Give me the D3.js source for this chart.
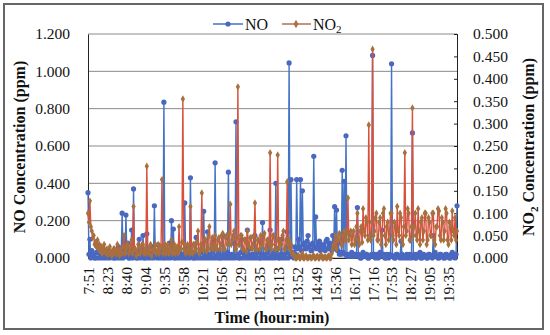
<!DOCTYPE html>
<html>
<head>
<meta charset="utf-8">
<title>NO / NO2</title>
<script src="https://cdn.jsdelivr.net/npm/d3@7"></script>
<style>
  html, body { margin: 0; padding: 0; background: #fff; }
  svg { display: block; }
  text { font-family: "Liberation Serif", "Times New Roman", serif; fill: #111; }
</style>
</head>
<body>
<svg width="550" height="335"></svg>
<script>
// time labels, one every 20 readings
var timeLabels = ["7:51","8:23","8:40","9:04","9:35","9:58","10:21","10:56","11:29","12:35",
                  "13:13","13:52","14:49","15:36","16:17","17:16","17:53","18:27","19:05","19:35"];
var labelEvery = 20;

// NO concentration (ppm), left axis - one row per label interval
var no = [
  0.35, 0.02, 0.10, 0.0, 0.04, 0.01, 0.02, 0.0, 0.0, 0.03, 0.06, 0.0, 0.03, 0.01, 0.0, 0.02, 0.05, 0.0, 0.02, 0.01,
  0.0, 0.02, 0.04, 0.0, 0.01, 0.03, 0.03, 0.0, 0.0, 0.01, 0.02, 0.0, 0.06, 0.01, 0.0, 0.02, 0.24, 0.0, 0.05, 0.01,
  0.23, 0.01, 0.08, 0.0, 0.0, 0.02, 0.15, 0.0, 0.37, 0.01, 0.02, 0.0, 0.0, 0.03, 0.10, 0.0, 0.04, 0.01, 0.12, 0.0,
  0.0, 0.02, 0.13, 0.0, 0.02, 0.01, 0.0, 0.03, 0.06, 0.0, 0.28, 0.01, 0.01, 0.0, 0.07, 0.02, 0.0, 0.01, 0.03, 0.0,
  0.835, 0.0, 0.02, 0.01, 0.0, 0.03, 0.08, 0.0, 0.20, 0.02, 0.155, 0.0, 0.0, 0.02, 0.04, 0.0, 0.01, 0.03, 0.0, 0.01,
  0.02, 0.0, 0.295, 0.01, 0.0, 0.02, 0.06, 0.0, 0.43, 0.01, 0.03, 0.0, 0.0, 0.02, 0.11, 0.0, 0.02, 0.01, 0.0, 0.03,
  0.05, 0.0, 0.25, 0.01, 0.0, 0.02, 0.14, 0.0, 0.02, 0.01, 0.0, 0.03, 0.09, 0.0, 0.51, 0.01, 0.0, 0.02, 0.03, 0.0,
  0.0, 0.01, 0.12, 0.0, 0.02, 0.01, 0.0, 0.03, 0.46, 0.0, 0.01, 0.02, 0.0, 0.01, 0.08, 0.0, 0.73, 0.01, 0.02, 0.0,
  0.0, 0.03, 0.10, 0.0, 0.03, 0.01, 0.0, 0.02, 0.15, 0.0, 0.05, 0.01, 0.0, 0.02, 0.02, 0.0, 0.12, 0.01, 0.0, 0.03,
  0.03, 0.0, 0.0, 0.02, 0.19, 0.0, 0.02, 0.01, 0.0, 0.03, 0.07, 0.0, 0.15, 0.01, 0.0, 0.02, 0.03, 0.0, 0.40, 0.01,
  0.05, 0.0, 0.0, 0.02, 0.10, 0.0, 0.02, 0.01, 0.0, 0.03, 0.14, 0.0, 1.045, 0.02, 0.42, 0.01, 0.03, 0.0, 0.06, 0.02,
  0.42, 0.05, 0.10, 0.06, 0.42, 0.04, 0.36, 0.07, 0.08, 0.05, 0.05, 0.09, 0.12, 0.06, 0.07, 0.04, 0.04, 0.08, 0.545, 0.06,
  0.22, 0.05, 0.06, 0.08, 0.09, 0.04, 0.05, 0.07, 0.07, 0.05, 0.04, 0.09, 0.10, 0.05, 0.06, 0.08, 0.05, 0.04, 0.12, 0.06,
  0.275, 0.05, 0.257, 0.04, 0.08, 0.02, 0.03, 0.02, 0.47, 0.03, 0.41, 0.02, 0.655, 0.01, 0.02, 0.01, 0.01, 0.02, 0.03, 0.01,
  0.01, 0.02, 0.02, 0.01, 0.27, 0.02, 0.01, 0.0, 0.0, 0.02, 0.03, 0.01, 0.01, 0.02, 0.02, 0.0, 0.0, 0.01, 0.01, 0.02,
  1.085, 0.01, 0.02, 0.0, 0.01, 0.02, 0.0, 0.01, 0.03, 0.02, 0.15, 0.01, 0.02, 0.0, 0.0, 0.02, 0.01, 0.0, 0.02, 0.01,
  1.04, 0.01, 0.01, 0.0, 0.0, 0.02, 0.02, 0.01, 0.01, 0.0, 0.09, 0.02, 0.0, 0.01, 0.01, 0.0, 0.02, 0.01, 0.0, 0.02,
  0.01, 0.0, 0.67, 0.01, 0.02, 0.0, 0.0, 0.02, 0.01, 0.01, 0.03, 0.0, 0.0, 0.02, 0.02, 0.01, 0.01, 0.0, 0.0, 0.02,
  0.02, 0.01, 0.01, 0.0, 0.12, 0.02, 0.03, 0.01, 0.01, 0.0, 0.0, 0.02, 0.02, 0.01, 0.01, 0.0, 0.0, 0.02, 0.02, 0.01,
  0.01, 0.0, 0.0, 0.02, 0.03, 0.01, 0.01, 0.0, 0.02, 0.28
];

// NO2 concentration (ppm), right axis
var no2 = [
  0.10, 0.08, 0.127, 0.07, 0.06, 0.045, 0.05, 0.03, 0.035, 0.025, 0.04, 0.02, 0.03, 0.015, 0.025, 0.01, 0.02, 0.03, 0.015, 0.01,
  0.02, 0.008, 0.01, 0.025, 0.015, 0.005, 0.008, 0.02, 0.02, 0.01, 0.01, 0.03, 0.015, 0.005, 0.02, 0.012, 0.01, 0.025, 0.05, 0.01,
  0.02, 0.03, 0.03, 0.01, 0.015, 0.025, 0.04, 0.01, 0.115, 0.02, 0.02, 0.005, 0.01, 0.03, 0.025, 0.01, 0.015, 0.03, 0.03, 0.01,
  0.02, 0.01, 0.205, 0.02, 0.01, 0.025, 0.03, 0.005, 0.015, 0.02, 0.02, 0.03, 0.01, 0.015, 0.03, 0.01, 0.02, 0.025, 0.175, 0.01,
  0.02, 0.03, 0.01, 0.02, 0.03, 0.01, 0.015, 0.025, 0.04, 0.01, 0.02, 0.03, 0.01, 0.02, 0.025, 0.01, 0.07, 0.02, 0.02, 0.035,
  0.355, 0.02, 0.03, 0.01, 0.015, 0.03, 0.02, 0.01, 0.115, 0.02, 0.01, 0.03, 0.03, 0.015, 0.02, 0.035, 0.06, 0.01, 0.015, 0.03,
  0.145, 0.02, 0.02, 0.04, 0.04, 0.015, 0.025, 0.05, 0.07, 0.02, 0.03, 0.045, 0.02, 0.03, 0.05, 0.02, 0.02, 0.04, 0.045, 0.02,
  0.03, 0.05, 0.055, 0.02, 0.02, 0.045, 0.05, 0.03, 0.035, 0.055, 0.12, 0.03, 0.04, 0.05, 0.06, 0.02, 0.02, 0.045, 0.382, 0.03,
  0.03, 0.05, 0.05, 0.02, 0.02, 0.04, 0.04, 0.015, 0.06, 0.03, 0.025, 0.045, 0.045, 0.02, 0.03, 0.05, 0.123, 0.02, 0.02, 0.04,
  0.04, 0.02, 0.05, 0.03, 0.03, 0.05, 0.055, 0.02, 0.02, 0.04, 0.04, 0.03, 0.235, 0.02, 0.03, 0.05, 0.05, 0.02, 0.02, 0.04,
  0.23, 0.02, 0.04, 0.03, 0.03, 0.05, 0.06, 0.02, 0.02, 0.04, 0.17, 0.03, 0.04, 0.02, 0.03, 0.01, 0.01, 0.005, 0.005, 0.0,
  0.0, 0.003, 0.005, 0.0, 0.0, 0.004, 0.01, 0.0, 0.0, 0.003, 0.005, 0.0, 0.0, 0.002, 0.003, 0.0, 0.0, 0.004, 0.005, 0.0,
  0.0, 0.003, 0.004, 0.0, 0.0, 0.005, 0.006, 0.0, 0.0, 0.002, 0.003, 0.0, 0.0, 0.004, 0.005, 0.0, 0.0, 0.01, 0.02, 0.03,
  0.03, 0.05, 0.02, 0.04, 0.04, 0.055, 0.05, 0.03, 0.03, 0.05, 0.06, 0.04, 0.04, 0.055, 0.134, 0.04, 0.05, 0.06, 0.03, 0.05,
  0.06, 0.03, 0.04, 0.07, 0.10, 0.04, 0.03, 0.06, 0.07, 0.035, 0.11, 0.06, 0.05, 0.09, 0.08, 0.04, 0.297, 0.05, 0.04, 0.08,
  0.466, 0.05, 0.06, 0.09, 0.10, 0.04, 0.04, 0.08, 0.09, 0.03, 0.05, 0.10, 0.11, 0.05, 0.03, 0.07, 0.08, 0.04, 0.06, 0.10,
  0.10, 0.05, 0.04, 0.08, 0.07, 0.03, 0.115, 0.06, 0.05, 0.10, 0.09, 0.04, 0.03, 0.07, 0.235, 0.05, 0.06, 0.11, 0.10, 0.04,
  0.04, 0.07, 0.335, 0.05, 0.07, 0.10, 0.05, 0.04, 0.11, 0.06, 0.03, 0.08, 0.09, 0.04, 0.06, 0.10, 0.10, 0.03, 0.04, 0.09,
  0.08, 0.05, 0.05, 0.10, 0.10, 0.04, 0.03, 0.07, 0.07, 0.11, 0.105, 0.05, 0.04, 0.09, 0.08, 0.04, 0.06, 0.11, 0.10, 0.04,
  0.03, 0.08, 0.07, 0.04, 0.105, 0.06, 0.05, 0.09, 0.04, 0.06
];

var leftTicks = [0, 0.2, 0.4, 0.6, 0.8, 1.0, 1.2];
var rightTicks = [0, 0.05, 0.1, 0.15, 0.2, 0.25, 0.3, 0.35, 0.4, 0.45, 0.5];

var noColor = "#4472C4", noMarker = "#4a68c0";
var no2Color = "#d9503c", no2Marker = "#a8703e";

var svg = d3.select("svg");
var L = 88, R = 457, T = 34, B = 258;

// frame
svg.append("rect").attr("x", 4).attr("y", 4).attr("width", 539).attr("height", 325)
  .attr("fill", "none").attr("stroke", "#666").attr("stroke-width", 2);

var x = d3.scalePoint().domain(d3.range(no.length)).range([L, R]);
var yL = d3.scaleLinear().domain([0, 1.2]).range([B, T]);
var yR = d3.scaleLinear().domain([0, 0.5]).range([B, T]);

// grid
svg.append("g").selectAll("line").data(leftTicks).enter().append("line")
  .attr("x1", L).attr("x2", R)
  .attr("y1", function (d) { return yL(d); }).attr("y2", function (d) { return yL(d); })
  .attr("stroke", "#8a8a8a").attr("stroke-width", 1);

// left axis
var gl = svg.append("g").attr("transform", "translate(" + L + ",0)")
  .call(d3.axisLeft(yL).tickValues(leftTicks).tickSize(0).tickPadding(18).tickFormat(d3.format(".3f")));
gl.select(".domain").attr("stroke", "#222");
gl.selectAll("text").style("font-size", "15.5px").style("font-family", "Liberation Serif");

// right axis
var gr = svg.append("g").attr("transform", "translate(" + R + ",0)")
  .call(d3.axisRight(yR).tickValues(rightTicks).tickSizeInner(-3).tickSizeOuter(0).tickPadding(16).tickFormat(d3.format(".3f")));
gr.select(".domain").attr("stroke", "#222");
gr.selectAll(".tick line").attr("stroke", "#222").attr("x2", -3).attr("x1", 1);
gr.selectAll("text").style("font-size", "15.5px").style("font-family", "Liberation Serif");

// bottom axis (time labels)
var gb = svg.append("g").attr("transform", "translate(0," + B + ")")
  .call(d3.axisBottom(x)
    .tickValues(timeLabels.map(function (d, i) { return i * labelEvery; }))
    .tickFormat(function (d) { return timeLabels[d / labelEvery]; })
    .tickSize(0).tickPadding(9));
gb.select(".domain").attr("stroke", "#222");
gb.selectAll("text")
  .attr("transform", "rotate(-90)")
  .attr("text-anchor", "end")
  .attr("x", -9).attr("y", 0).attr("dy", "0.35em")
  .style("font-size", "15.5px").style("font-family", "Liberation Serif");

// series
var lineNO = d3.line().x(function (d, i) { return x(i); }).y(function (d) { return yL(d); });
var lineNO2 = d3.line().x(function (d, i) { return x(i); }).y(function (d) { return yR(d); });

svg.append("path").datum(no).attr("d", lineNO)
  .attr("fill", "none").attr("stroke", noColor).attr("stroke-width", 1.4);
svg.append("g").selectAll("circle").data(no).enter().append("circle")
  .attr("cx", function (d, i) { return x(i); }).attr("cy", function (d) { return yL(d); })
  .attr("r", 2.6).attr("fill", noMarker);

svg.append("path").datum(no2).attr("d", lineNO2)
  .attr("fill", "none").attr("stroke", no2Color).attr("stroke-width", 1.4);
var diamond = d3.symbol().type(d3.symbolDiamond).size(16);
svg.append("g").selectAll("path").data(no2).enter().append("path")
  .attr("d", diamond)
  .attr("transform", function (d, i) { return "translate(" + x(i) + "," + yR(d) + ")"; })
  .attr("fill", no2Marker);

// axis titles
svg.append("text").attr("transform", "translate(25,147) rotate(-90)")
  .attr("text-anchor", "middle").style("font-size", "16px").style("font-weight", "bold")
  .text("NO Concentration (ppm)");
var rt = svg.append("text").attr("transform", "translate(534,147) rotate(-90)")
  .attr("text-anchor", "middle").style("font-size", "16px").style("font-weight", "bold");
rt.append("tspan").text("NO");
rt.append("tspan").attr("dy", 4).style("font-size", "11px").text("2");
rt.append("tspan").attr("dy", -4).text(" Concentration (ppm)");

svg.append("text").attr("x", 272).attr("y", 323).attr("text-anchor", "middle")
  .style("font-size", "16px").style("font-weight", "bold").text("Time (hour:min)");

// legend
var lg = svg.append("g");
lg.append("line").attr("x1", 213).attr("x2", 243).attr("y1", 24).attr("y2", 24)
  .attr("stroke", noColor).attr("stroke-width", 1.5);
lg.append("circle").attr("cx", 228).attr("cy", 24).attr("r", 2.6).attr("fill", noMarker);
lg.append("text").attr("x", 245).attr("y", 29.5).style("font-size", "16px").text("NO");
lg.append("line").attr("x1", 282).attr("x2", 311).attr("y1", 24).attr("y2", 24)
  .attr("stroke", "#b07050").attr("stroke-width", 1.5);
lg.append("path").attr("d", d3.symbol().type(d3.symbolDiamond).size(20)).attr("transform", "translate(296,24)").attr("fill", no2Marker);
var lt = lg.append("text").attr("x", 313).attr("y", 29.5).style("font-size", "16px");
lt.append("tspan").text("NO");
lt.append("tspan").attr("dy", 3).style("font-size", "11px").text("2");
</script>
</body>
</html>
